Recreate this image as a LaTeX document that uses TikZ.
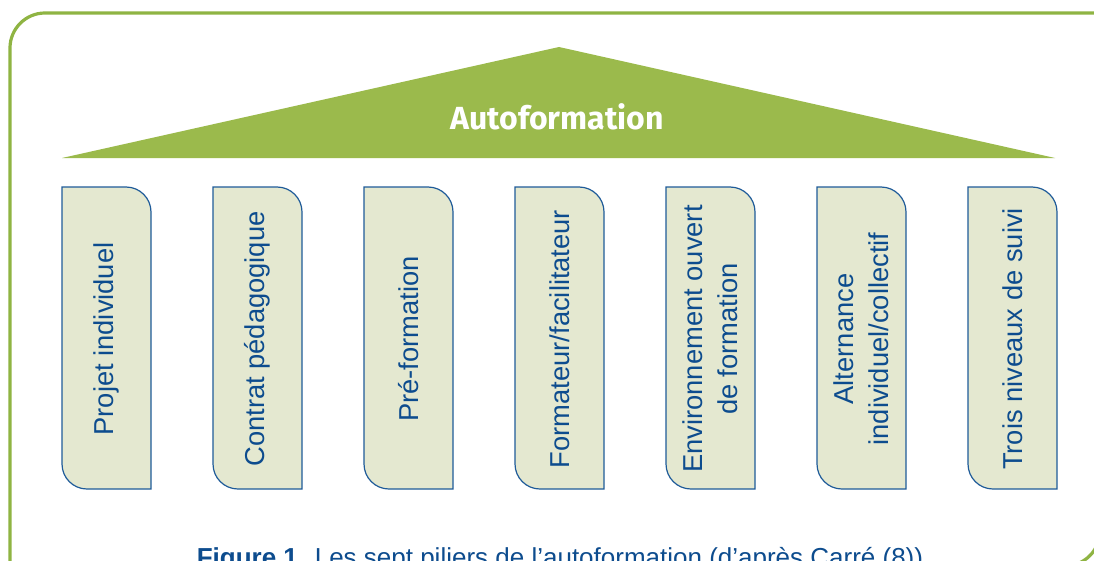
\documentclass[tikz,border=0pt]{standalone}
\usepackage{amsmath}
\usepackage{amssymb}
\usepackage{fontspec}
\setmainfont{Liberation Sans}
\newfontfamily\roofFont{Fira Sans}
\usepackage{tikz}

\definecolor{leaf}{HTML}{9BBA4C}
\definecolor{frameGreen}{HTML}{8FB443}
\definecolor{pillarFill}{HTML}{E4E8D0}
\definecolor{pillarLine}{HTML}{1F5B99}
\definecolor{inkBlue}{HTML}{0D4C8E}

\tikzset{
  pillar/.style={draw=pillarLine, fill=pillarFill, line width=0.9pt},
  pillarText/.style={rotate=90, align=center, text=inkBlue, font=\fontsize{20.5}{26}\selectfont},
  roofText/.style={text=white, font=\roofFont\bfseries\fontsize{24}{29}\selectfont},
  captionText/.style={text=inkBlue, font=\fontsize{19.5}{24}\selectfont}
}

\begin{document}
\begin{tikzpicture}[x=0.75pt, y=-0.75pt]
\useasboundingbox (0, 0) rectangle (1094, 560);
\clip (0, 0) rectangle (1094, 560);
\fill[white] (0, 0) rectangle (1094, 560);

\draw[frameGreen, line width=2.4pt] (10, 566) -- (10, 48) .. controls (10, 28.7) and (25.7, 13) .. (45, 13) -- (1100, 13) -- (1100, 531) .. controls (1100, 550.3) and (1084.3, 566) .. (1065, 566) -- cycle;

\fill[leaf] (62, 158) -- (559, 47) -- (1055, 158) -- cycle;
\node[roofText] (roof) at (557, 117) {Autoformation};

\foreach \txt [count=\i from 0] in {Projet individuel, Contrat pédagogique, Pré-formation, Formateur/facilitateur, {Environnement ouvert\\de formation}, {Alternance\\individuel/collectif}, Trois niveaux de suivi} {
  \pgfmathsetmacro{\x}{62 + 151*\i}
  \draw[pillar] (\x, 187) -- (\x+64, 187) .. controls (\x+77.8, 187) and (\x+89, 198.2) .. (\x+89, 212) -- (\x+89, 489) -- (\x+25, 489) .. controls (\x+11.2, 489) and (\x, 477.8) .. (\x, 464) -- cycle;
  \node[pillarText] (pillar\i) at (\x+44.5, 339) {\txt};
}

\node[captionText, anchor=base] (caption) at (560, 566) {\textbf{Figure 1.} Les sept piliers de l’autoformation (d’après Carré (8))};
\end{tikzpicture}
\end{document}
